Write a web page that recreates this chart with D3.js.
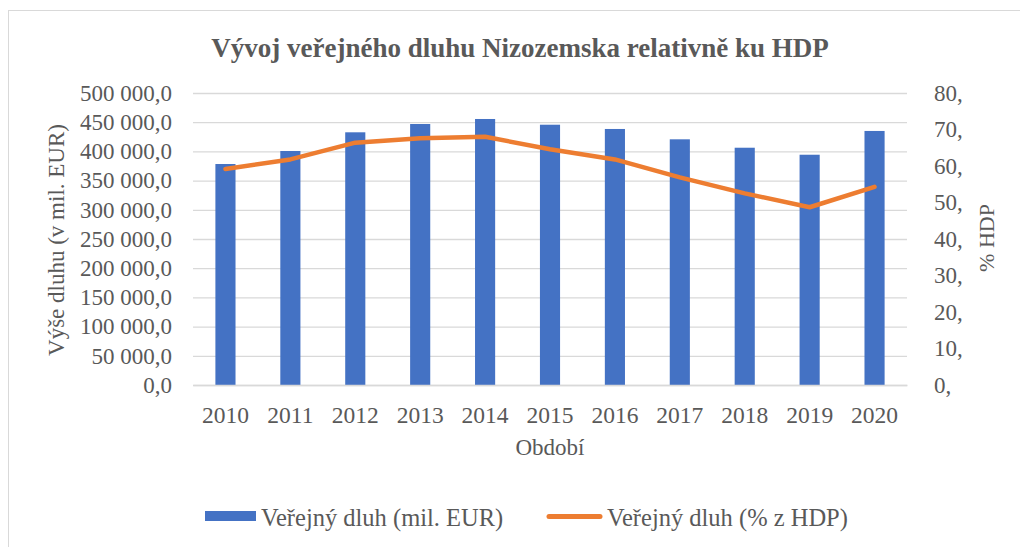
<!DOCTYPE html>
<html>
<head>
<meta charset="utf-8">
<script src="https://cdn.jsdelivr.net/npm/d3@7"></script>
<style>
  body { margin: 0; background: #fff; }
  svg text { font-family: "Liberation Serif", "Times New Roman", serif; fill: #595959; }
</style>
</head>
<body>
<div id="chart"></div>
<script>
// data
var years = ["2010", "2011", "2012", "2013", "2014", "2015", "2016", "2017", "2018", "2019", "2020"];
var debtEur = [378400, 400700, 432700, 446900, 455500, 445700, 438400, 420700, 406300, 394300, 435000];
var debtPct = [59.2, 61.8, 66.4, 67.6, 68.0, 64.6, 61.8, 56.9, 52.5, 48.7, 54.3];
var leftTicks = [0, 50000, 100000, 150000, 200000, 250000, 300000, 350000, 400000, 450000, 500000];
var rightTicks = [0, 10, 20, 30, 40, 50, 60, 70, 80];

var svg = d3.select("#chart").append("svg").attr("width", 1020).attr("height", 547);

// outer frame (only left and top edges fall inside the picture)
svg.append("rect")
    .attr("x", 8.5).attr("y", 10.5).attr("width", 1100).attr("height", 600)
    .style("fill", "none").style("stroke", "#d9d9d9").style("stroke-width", 1);

var plotL = 193, plotR = 907, plotT = 93, plotB = 385;

var x = d3.scaleBand().domain(years).range([plotL, plotR]).paddingInner(0.69).paddingOuter(0.345);
var xc = d3.scaleBand().domain(years).range([plotL, plotR]);
var y = d3.scaleLinear().domain([0, 500000]).range([plotB, plotT]);
var y2 = d3.scaleLinear().domain([0, 80]).range([plotB, plotT]);

var fmt = function(v) {
    return d3.format(",.1f")(v).replace(/,/g, " ").replace(".", ",");
};

// gridlines
svg.append("g")
    .attr("transform", "translate(" + plotL + ",0)")
    .call(d3.axisLeft(y).tickValues(leftTicks).tickSize(-(plotR - plotL)).tickFormat(""))
    .call(function(g) { g.select(".domain").remove(); })
    .selectAll("line").style("stroke", "#d9d9d9").style("stroke-width", 1.3);

// left axis labels
svg.append("g")
    .attr("transform", "translate(172,0)")
    .call(d3.axisLeft(y).tickValues(leftTicks).tickSize(0).tickPadding(0).tickFormat(fmt))
    .call(function(g) { g.select(".domain").remove(); })
    .selectAll("text").style("font-size", "23px").style("fill", "#595959");

// right axis labels
svg.append("g")
    .attr("transform", "translate(934,0)")
    .call(d3.axisRight(y2).tickValues(rightTicks).tickSize(0).tickPadding(0).tickFormat(function(d) { return d + ","; }))
    .call(function(g) { g.select(".domain").remove(); })
    .selectAll("text").style("font-size", "23px").style("fill", "#595959");

// bars
svg.append("g").selectAll("rect")
    .data(years)
    .enter().append("rect")
    .attr("x", function(d) { return x(d); })
    .attr("width", x.bandwidth())
    .attr("y", function(d, i) { return y(debtEur[i]); })
    .attr("height", function(d, i) { return plotB - y(debtEur[i]); })
    .style("fill", "#4472c4");

// x axis
svg.append("g")
    .attr("transform", "translate(0," + plotB + ")")
    .call(d3.axisBottom(xc).tickSize(0).tickPadding(21))
    .call(function(g) {
        g.select(".domain").style("stroke", "#d9d9d9").style("stroke-width", 1.3);
    })
    .selectAll("text").style("font-size", "23.5px").style("fill", "#595959");

// line
var line = d3.line()
    .x(function(d, i) { return xc(years[i]) + xc.bandwidth() / 2; })
    .y(function(d) { return y2(d); });

svg.append("path")
    .datum(debtPct)
    .attr("d", line)
    .style("fill", "none")
    .style("stroke", "#ed7d31")
    .style("stroke-width", 4.5)
    .style("stroke-linecap", "round")
    .style("stroke-linejoin", "round");

// titles
svg.append("text")
    .attr("x", 520).attr("y", 57)
    .attr("text-anchor", "middle")
    .style("font-size", "27px").style("font-weight", "bold")
    .text("Vývoj veřejného dluhu Nizozemska relativně ku HDP");

svg.append("text")
    .attr("x", 550).attr("y", 455)
    .attr("text-anchor", "middle")
    .style("font-size", "23px")
    .text("Období");

svg.append("text")
    .attr("transform", "translate(64,240) rotate(-90)")
    .attr("text-anchor", "middle")
    .style("font-size", "23px")
    .text("Výše dluhu (v mil. EUR)");

svg.append("text")
    .attr("transform", "translate(994,238) rotate(-90)")
    .attr("text-anchor", "middle")
    .style("font-size", "22px")
    .text("% HDP");

// legend
var legend = svg.append("g").attr("transform", "translate(0,516)");
legend.append("rect").attr("x", 205).attr("y", -5).attr("width", 51).attr("height", 10).style("fill", "#4472c4");
legend.append("text").attr("x", 261).attr("y", 10).style("font-size", "24.5px").text("Veřejný dluh (mil. EUR)");
legend.append("line").attr("x1", 549).attr("x2", 600).attr("y1", 0.5).attr("y2", 0.5)
    .style("stroke", "#ed7d31").style("stroke-width", 5).style("stroke-linecap", "round");
legend.append("text").attr("x", 607).attr("y", 10).style("font-size", "24.5px").text("Veřejný dluh (% z HDP)");
</script>
</body>
</html>
